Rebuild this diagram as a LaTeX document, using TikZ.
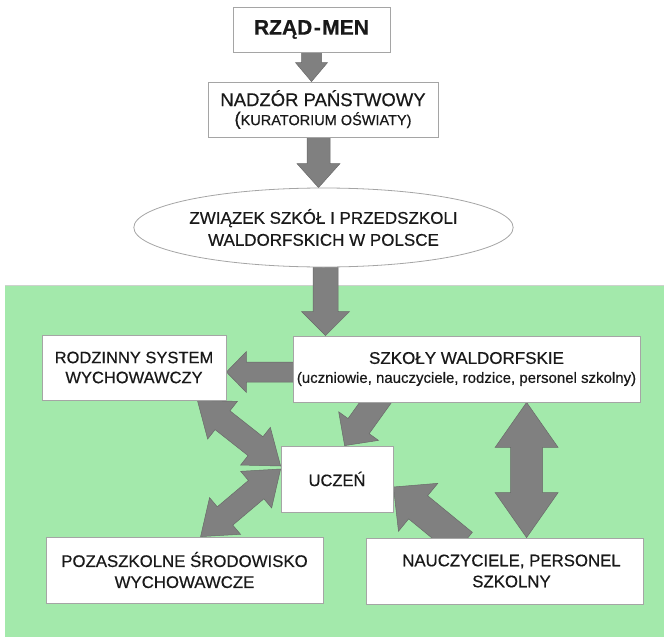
\documentclass[tikz,border=0pt]{standalone}
\usepackage{fontspec}
\setmainfont{Liberation Sans}[FakeBold=0.5]
\usetikzlibrary{shapes.geometric,calc}
\definecolor{bggreen}{RGB}{163,233,171}
\definecolor{arrowgray}{RGB}{128,128,128}
\definecolor{arrowedge}{RGB}{105,105,105}
\definecolor{boxline}{RGB}{165,165,165}
\definecolor{txt}{RGB}{25,25,25}
\pgfdeclarelayer{greenlayer}
\pgfdeclarelayer{arrowlayer}
\pgfsetlayers{greenlayer,arrowlayer,main}
\tikzset{
  box/.style={draw=boxline, line width=0.8pt, fill=white, inner sep=0pt,
    align=center, text=txt, font=\fontsize{16.8}{21}\selectfont},
  fatstyle/.style={fill=arrowgray, draw=arrowedge, line width=0.5pt, line join=miter}
}
% single fat arrow: start, tip, half shaft, half head, head length
\newcommand\fatarr[5]{%
  \path[fatstyle]
    ($(#1)!#3!90:(#2)$) --
    ($($(#2)!#5!(#1)$)!#3!-90:(#1)$) --
    ($($(#2)!#5!(#1)$)!#4!-90:(#1)$) --
    (#2) --
    ($($(#2)!#5!(#1)$)!#4!90:(#1)$) --
    ($($(#2)!#5!(#1)$)!#3!90:(#1)$) --
    ($(#1)!#3!-90:(#2)$) -- cycle;}
% double fat arrow: tip1, tip2, half shaft, half head, head length
\newcommand\fatdbl[5]{%
  \path[fatstyle]
    (#1) --
    ($($(#1)!#5!(#2)$)!#4!90:(#2)$) --
    ($($(#1)!#5!(#2)$)!#3!90:(#2)$) --
    ($($(#2)!#5!(#1)$)!#3!-90:(#1)$) --
    ($($(#2)!#5!(#1)$)!#4!-90:(#1)$) --
    (#2) --
    ($($(#2)!#5!(#1)$)!#4!90:(#1)$) --
    ($($(#2)!#5!(#1)$)!#3!90:(#1)$) --
    ($($(#1)!#5!(#2)$)!#3!-90:(#2)$) --
    ($($(#1)!#5!(#2)$)!#4!-90:(#2)$) -- cycle;}
\begin{document}
\begin{tikzpicture}[x=1pt,y=-1pt]
\useasboundingbox (0,0) rectangle (664,637);

% nodes
\node[box, minimum width=157pt, minimum height=45pt] (men) at (311.5,29.5)
  {\fontsize{21}{25}\selectfont\bfseries RZĄD\kern1.5pt-\kern1.5pt MEN};
\node[box, minimum width=230pt, minimum height=55pt, font=\fontsize{18.5}{20}\selectfont] (nad) at (323,109.5)
  {NADZÓR PAŃSTWOWY\\[-1pt]{\fontsize{18.5}{20}\selectfont(}{\fontsize{14.5}{17}\selectfont KURATORIUM OŚWIATY)}};
\node[box, ellipse, inner sep=0pt, minimum width=327pt, minimum height=79pt, font=\fontsize{17}{22}\selectfont] (zw) at (323.5,227.5)
  {ZWIĄZEK SZKÓŁ I PRZEDSZKOLI\\WALDORFSKICH W POLSCE};
\node[box, minimum width=347pt, minimum height=66pt, font=\fontsize{17}{19}\selectfont] (szk) at (466.5,369)
  {SZKOŁY WALDORFSKIE\\{\fontsize{15}{19}\selectfont (uczniowie, nauczyciele, rodzice, personel szkolny)}};
\node[box, minimum width=184pt, minimum height=65pt, font=\fontsize{16.5}{20}\selectfont] (rod) at (134,367.5)
  {RODZINNY SYSTEM\\WYCHOWAWCZY};
\node[box, minimum width=112pt, minimum height=66pt, font=\fontsize{16.5}{20}\selectfont] (ucz) at (337,479)
  {UCZEŃ};
\node[box, minimum width=277pt, minimum height=66pt] (poz) at (184.5,570)
  {POZASZKOLNE ŚRODOWISKO\\WYCHOWAWCZE};
\node[box, minimum width=277pt, minimum height=66pt] (nau) at (504.5,571)
  {\hspace*{14pt}NAUCZYCIELE, PERSONEL\\\hspace*{14pt}SZKOLNY};

% connector end points
\coordinate (a1s) at ([yshift=2pt]men.south);
\coordinate (a1t) at (men.south |- nad.north);
\coordinate (a2s) at ([xshift=-4.5pt,yshift=2pt]nad.south);
\coordinate (a2t) at (a2s |- zw.north);
\coordinate (a3s) at ([xshift=2pt,yshift=4pt]zw.south);
\coordinate (a3t) at (a3s |- szk.north);
\coordinate (a4s) at ([xshift=2pt,yshift=-3pt]szk.west);
\coordinate (a4t) at (rod.east |- a4s);
\coordinate (a5p) at ([xshift=83pt]szk.south west);
\coordinate (a5t) at ([xshift=64pt]ucz.north west);
\coordinate (a5s) at ($(a5p)!-14pt!(a5t)$);
\coordinate (a6a) at ([xshift=-29pt]rod.south east);
\coordinate (a6b) at ([yshift=13pt]ucz.west);
\coordinate (a7a) at ([yshift=10pt]ucz.west);
\coordinate (a7b) at ([xshift=155pt]poz.north west);
\coordinate (a8p) at ([xshift=89.5pt]nau.north west);
\coordinate (a8t) at ([yshift=-8pt]ucz.east);
\coordinate (a8s) at ($(a8p)!-10pt!(a8t)$);
\coordinate (a9a) at ([xshift=234pt]szk.south west);
\coordinate (a9b) at (a9a |- nau.north);

\begin{pgfonlayer}{greenlayer}
  \fill[bggreen] (5,285) rectangle (664,637);
  \draw[line width=1pt, color={rgb,255:red,205;green,210;blue,205}] (5,285) -- (664,285);
\end{pgfonlayer}

\begin{pgfonlayer}{arrowlayer}
  \fatarr{a1s}{a1t}{10pt}{16pt}{19pt}
  \fatarr{a2s}{a2t}{11.5pt}{21.5pt}{24pt}
  \fatarr{a3s}{a3t}{12.5pt}{24pt}{24pt}
  \fatarr{a4s}{a4t}{10pt}{20.5pt}{20pt}
  \fatarr{a5s}{a5t}{13pt}{24.5pt}{24pt}
  \fatdbl{a6a}{a6b}{12pt}{24pt}{32pt}
  \fatdbl{a7a}{a7b}{12pt}{24pt}{32pt}
  \fatarr{a8s}{a8t}{15pt}{31pt}{32pt}
  \fatdbl{a9a}{a9b}{16pt}{31.5pt}{45pt}
\end{pgfonlayer}
\end{tikzpicture}
\end{document}
